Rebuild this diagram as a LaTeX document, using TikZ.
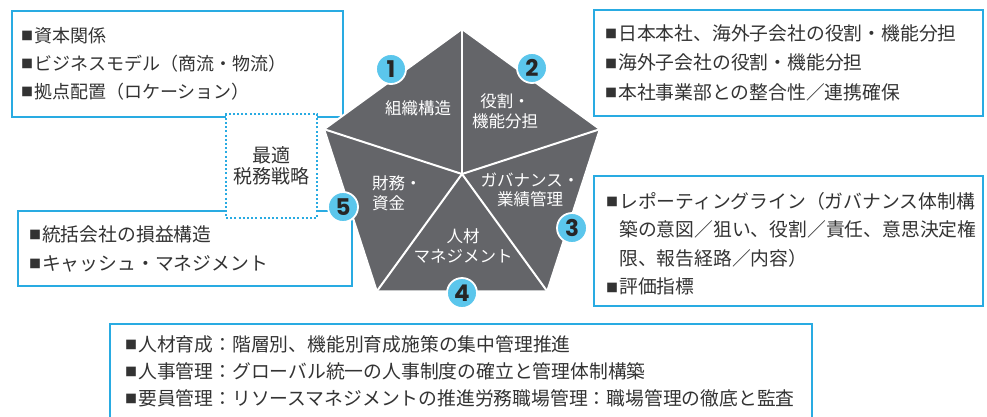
\documentclass[tikz,border=0pt]{standalone}
\usepackage{fontspec}
\newfontfamily\jp{Noto Sans CJK JP}
\newfontfamily\numf{Poppins}
\usetikzlibrary{shapes.geometric}
\definecolor{bord}{HTML}{29ABE2}
\definecolor{circ}{HTML}{5BC6EC}
\definecolor{pentc}{HTML}{646569}
\definecolor{txt}{HTML}{333333}
\newcommand\bsq{\raisebox{1.5pt}{\fontsize{12}{12}\selectfont ■}\hspace{1pt}}
\newcommand\bsqph{\phantom{\bsq}}
\tikzset{
  boxline/.style={draw=bord, line width=1.3pt},
  lst/.style={text=txt, align=left, anchor=north west, inner sep=0pt},
  plab/.style={font=\jp\fontsize{16.5}{20}\selectfont, text=white, align=center, inner sep=0pt},
  numc/.style={circle, fill=circ, draw=white, line width=1.8pt, minimum size=30pt, inner sep=0pt,
    font=\numf\bfseries\fontsize{23}{23}\selectfont, text=black!85},
  dotbox/.style={draw=bord, line width=2pt, dash pattern=on 2pt off 2.2pt, fill=white,
    minimum width=91pt, minimum height=104pt, inner sep=0pt, align=center, text=txt,
    font=\jp\fontsize{19}{21}\selectfont}
}
\begin{document}
\begin{tikzpicture}[x=1pt,y=-1pt]
\useasboundingbox (0,0) rectangle (987,416);
% boxes
\draw[boxline] (12,11) rectangle (343,117);
\draw[boxline] (594,10) rectangle (983,116);
\draw[boxline] (594,176) rectangle (983,306);
\draw[boxline] (18,211) rectangle (352,286);
\draw[boxline] (110,418) -- (110,324) -- (812,324) -- (812,418);
% texts
\node[lst, font=\jp\fontsize{18}{28}\selectfont] (t1) at (21,27)
  {\bsq 資本関係\\\bsq ビジネスモデル（商流・物流）\\\bsq 拠点配置（ロケーション）};
\node[lst, font=\jp\fontsize{18.8}{29.5}\selectfont] (t2) at (605,24)
  {\bsq 日本本社、海外子会社の役割・機能分担\\\bsq 海外子会社の役割・機能分担\\\bsq 本社事業部との整合性／連携確保};
\node[lst, font=\jp\fontsize{18.8}{28.5}\selectfont] (t3) at (606,192)
  {\bsq レポーティングライン（ガバナンス体制構\\\bsqph 築の意図／狙い、役割／責任、意思決定権\\\bsqph 限、報告経路／内容）\\\bsq 評価指標};
\node[lst, font=\jp\fontsize{18.8}{29}\selectfont] (t4) at (29,225)
  {\bsq 統括会社の損益構造\\\bsq キャッシュ・マネジメント};
\node[lst, font=\jp\fontsize{18.8}{27}\selectfont] (t5) at (125,335)
  {\bsq 人材育成：階層別、機能別育成施策の集中管理推進\\\bsq 人事管理：グローバル統一の人事制度の確立と管理体制構築\\\bsq 要員管理：リソースマネジメントの推進労務職場管理：職場管理の徹底と監査};
% dotted box
\node[dotbox] (opt) at (271.5,166) {最適\\税務戦略};
% pentagon
\coordinate (c) at (462,174);
\coordinate (v1) at (462,29);
\coordinate (v2) at (599.9,129.2);
\coordinate (v3) at (547.2,291.3);
\coordinate (v4) at (376.8,291.3);
\coordinate (v5) at (324.1,129.2);
\filldraw[fill=pentc, draw=white, line width=2pt, line join=miter] (v1)--(v2)--(v3)--(v4)--(v5)--cycle;
\foreach \v in {v1,v2,v3,v4,v5} \draw[white, line width=2pt] (c) -- (\v);
% labels
\node[plab] (l1) at (418,108) {組織構造};
\node[plab] (l2) at (505,111) {役割・\\機能分担};
\node[plab, font=\jp\fontsize{16.5}{19}\selectfont] (l3) at (530,190) {ガバナンス・\\業績管理};
\node[plab] (l4) at (463,246) {人材\\マネジメント};
\node[plab, align=left, anchor=west] (l5) at (372,193) {財務・\\資金};
% numbers
\node[numc] (n1) at (391,69) {1};
\node[numc] (n2) at (532,68) {2};
\node[numc] (n3) at (572,228) {3};
\node[numc] (n4) at (462,293) {4};
\node[numc] (n5) at (343,207) {5};
\end{tikzpicture}
\end{document}
